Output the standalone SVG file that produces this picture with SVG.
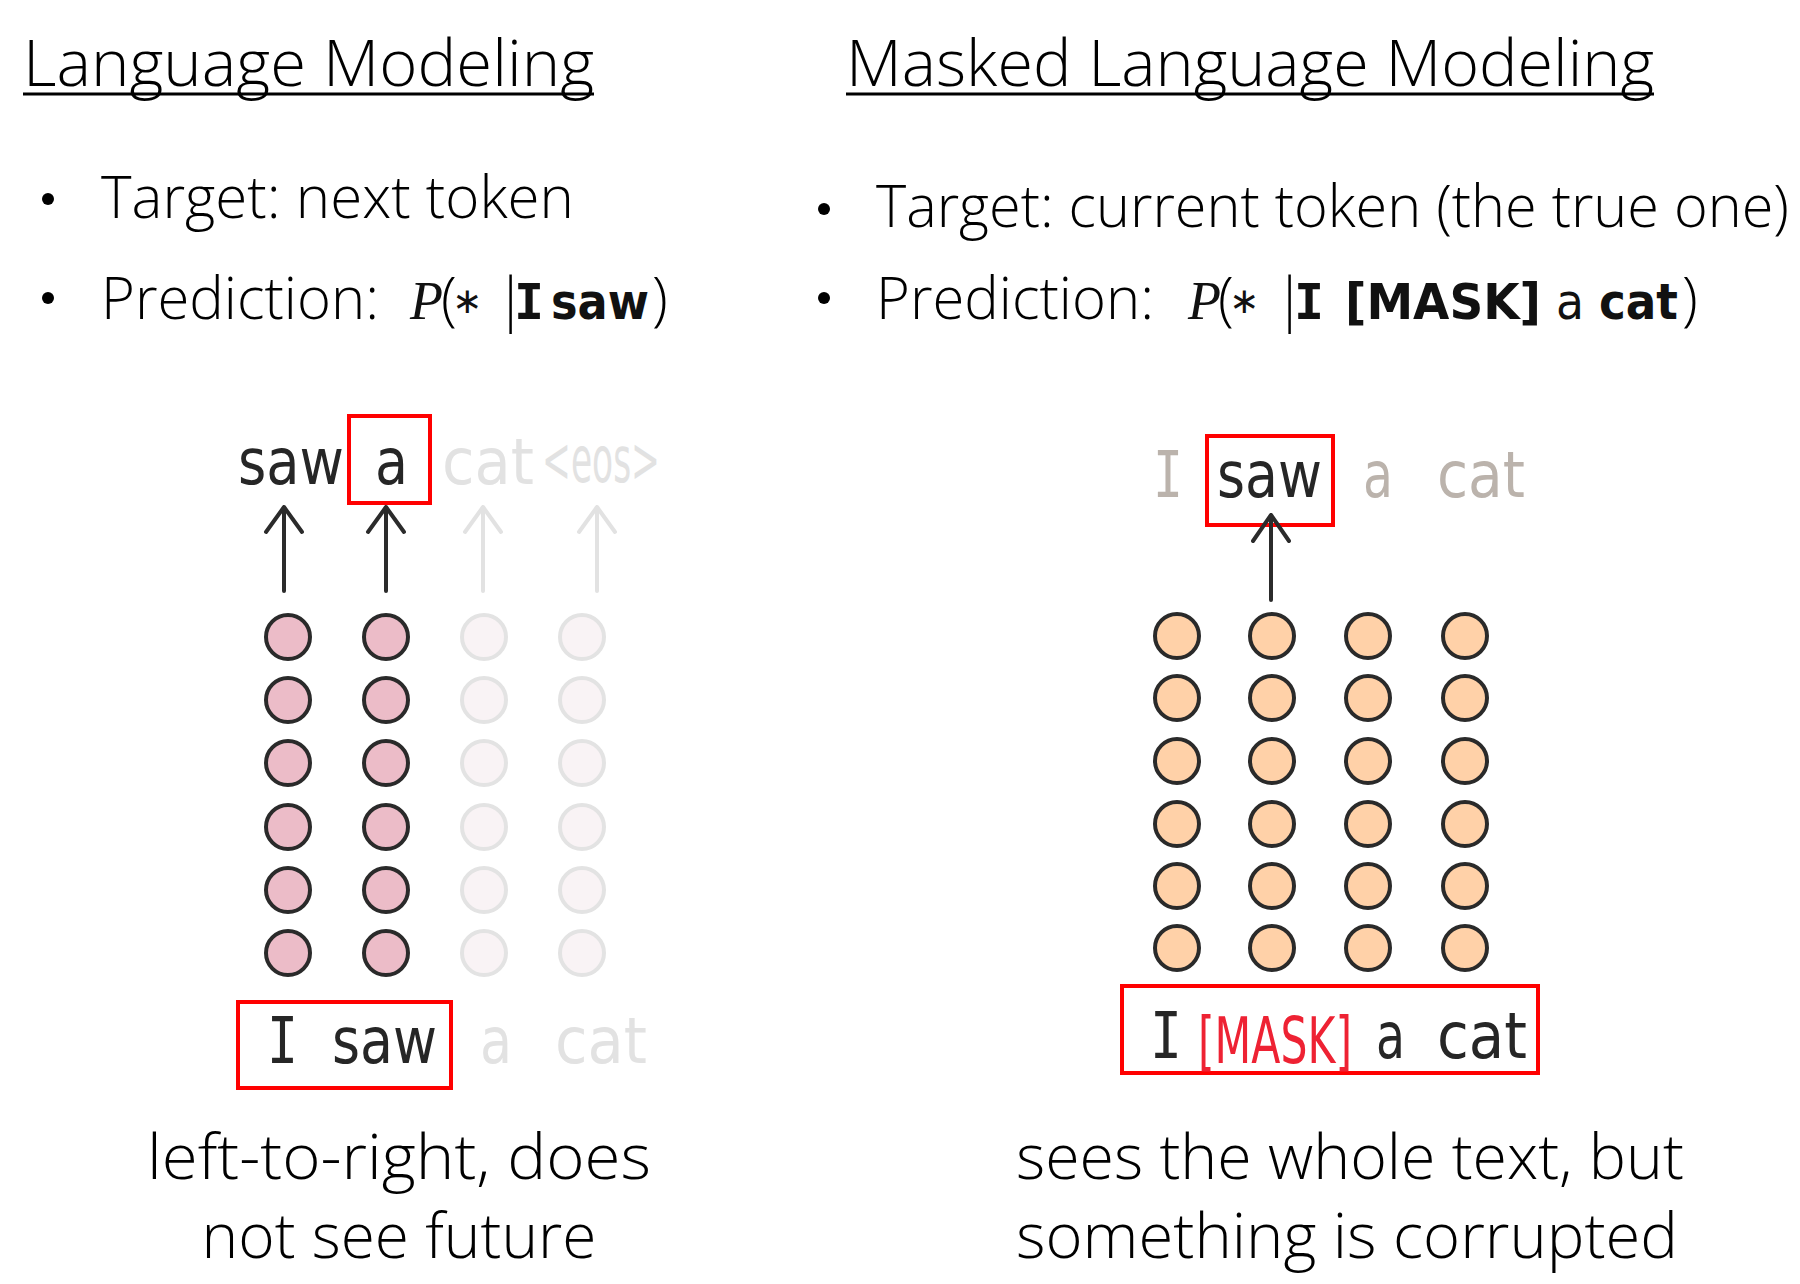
<svg xmlns="http://www.w3.org/2000/svg" width="1800" height="1284" viewBox="0 0 1800 1284">
<style>
.sans{font-family:"Open Sans","Liberation Sans",sans-serif;font-weight:300;fill:#000}
.title{font-size:64px}
.body{font-size:58px}
.cap{font-size:62px}
.tok{font-family:"DejaVu Sans","Liberation Sans",sans-serif;font-size:64px}
.mono{font-family:"DejaVu Sans Mono","Liberation Mono",monospace}
.math{font-family:"DejaVu Sans","Liberation Sans",sans-serif;font-weight:bold;font-size:50px;fill:#111}
.serif{font-family:"Liberation Serif",serif;font-style:italic;font-weight:normal}
.dark{fill:#262626}
.faint{fill:#E2E2E2}
.warm{fill:#BBB3AC}
.red{fill:#EE2233}
.box{fill:none;stroke:#FF0000;stroke-width:4}
.arr{fill:none;stroke:#2b2b2b;stroke-width:4;stroke-linecap:round;stroke-linejoin:round}
.arr.f{stroke:#E2E2E2}
.cp{fill:#ECBCC8;stroke:#2a2a2a;stroke-width:4}
.cf{fill:#F9F3F5;stroke:#E3E3E3;stroke-width:4}
.co{fill:#FFD1A8;stroke:#2a2a2a;stroke-width:4}
.ul{stroke:#000;stroke-width:3}
</style>
<rect width="1800" height="1284" fill="#fff"/>

<g id="title-lm">
<text class="sans title" x="23" y="86" textLength="571" lengthAdjust="spacingAndGlyphs">Language Modeling</text>
<line class="ul" x1="23" y1="94" x2="594" y2="94"/>
</g>
<g id="title-mlm">
<text class="sans title" x="846" y="86" textLength="808" lengthAdjust="spacingAndGlyphs">Masked Language Modeling</text>
<line class="ul" x1="846" y1="94" x2="1654" y2="94"/>
</g>

<g id="bullets-lm">
<circle cx="48" cy="199" r="6" fill="#000"/>
<text class="sans body" x="101" y="218" textLength="473" lengthAdjust="spacingAndGlyphs">Target: next token</text>
<circle cx="48" cy="298" r="6" fill="#000"/>
<text class="sans body" x="101" y="319" textLength="278" lengthAdjust="spacingAndGlyphs">Prediction:</text>
<text class="math" y="319"><tspan class="serif" x="410" font-size="54">P</tspan><tspan class="sans" x="441" font-size="58" font-weight="300">(</tspan><tspan x="452" font-size="36" font-weight="normal" dy="-6">∗</tspan><tspan class="sans" x="495" font-size="58" font-weight="300" dy="6">|</tspan><tspan class="mono" x="514">I</tspan><tspan x="551" textLength="98" lengthAdjust="spacingAndGlyphs">saw</tspan><tspan class="sans" x="652" font-size="58" font-weight="300">)</tspan></text>
</g>

<g id="bullets-mlm">
<circle cx="824" cy="209" r="6" fill="#000"/>
<text class="sans body" x="876" y="227" textLength="913" lengthAdjust="spacingAndGlyphs">Target: current token (the true one)</text>
<circle cx="824" cy="298" r="6" fill="#000"/>
<text class="sans body" x="876" y="319" textLength="278" lengthAdjust="spacingAndGlyphs">Prediction:</text>
<text class="math" y="319"><tspan class="serif" x="1188" font-size="54">P</tspan><tspan class="sans" x="1218" font-size="58" font-weight="300">(</tspan><tspan x="1229" font-size="36" font-weight="normal" dy="-6">∗</tspan><tspan class="sans" x="1274" font-size="58" font-weight="300" dy="6">|</tspan><tspan class="mono" x="1294">I</tspan><tspan x="1345" textLength="196" lengthAdjust="spacingAndGlyphs">[MASK]</tspan><tspan x="1556" textLength="28" lengthAdjust="spacingAndGlyphs" font-weight="normal">a</tspan><tspan x="1599" textLength="79" lengthAdjust="spacingAndGlyphs">cat</tspan><tspan class="sans" x="1682" font-size="58" font-weight="300">)</tspan></text>
</g>

<g id="lm-outputs">
<text class="tok dark" x="238" y="484" textLength="106" lengthAdjust="spacingAndGlyphs">saw</text>
<text class="tok dark" x="375" y="484" textLength="33" lengthAdjust="spacingAndGlyphs">a</text>
<rect class="box" x="349" y="416" width="81" height="87"/>
<text class="tok faint" x="442" y="484" textLength="92" lengthAdjust="spacingAndGlyphs">cat</text>
<text class="tok faint" x="542" y="482" font-size="44" textLength="118" lengthAdjust="spacingAndGlyphs">&lt;eos&gt;</text>
</g>

<g id="lm-inputs">
<rect class="box" x="238" y="1002" width="213" height="86"/>
<text class="tok dark mono" x="267" y="1063" textLength="31" lengthAdjust="spacingAndGlyphs">I</text>
<text class="tok dark" x="332" y="1063" textLength="105" lengthAdjust="spacingAndGlyphs">saw</text>
<text class="tok faint" x="480" y="1063" textLength="32" lengthAdjust="spacingAndGlyphs">a</text>
<text class="tok faint" x="555" y="1063" textLength="92" lengthAdjust="spacingAndGlyphs">cat</text>
</g>

<g id="lm-states">
<g class="cp">
<circle cx="288" cy="637" r="22"/><circle cx="288" cy="700" r="22"/><circle cx="288" cy="763" r="22"/><circle cx="288" cy="827" r="22"/><circle cx="288" cy="890" r="22"/><circle cx="288" cy="953" r="22"/>
<circle cx="386" cy="637" r="22"/><circle cx="386" cy="700" r="22"/><circle cx="386" cy="763" r="22"/><circle cx="386" cy="827" r="22"/><circle cx="386" cy="890" r="22"/><circle cx="386" cy="953" r="22"/>
</g>
<g class="cf">
<circle cx="484" cy="637" r="22"/><circle cx="484" cy="700" r="22"/><circle cx="484" cy="763" r="22"/><circle cx="484" cy="827" r="22"/><circle cx="484" cy="890" r="22"/><circle cx="484" cy="953" r="22"/>
<circle cx="582" cy="637" r="22"/><circle cx="582" cy="700" r="22"/><circle cx="582" cy="763" r="22"/><circle cx="582" cy="827" r="22"/><circle cx="582" cy="890" r="22"/><circle cx="582" cy="953" r="22"/>
</g>
</g>

<g id="mlm-outputs">
<text class="tok warm mono" x="1153" y="497" textLength="30" lengthAdjust="spacingAndGlyphs">I</text>
<text class="tok dark" x="1217" y="497" textLength="105" lengthAdjust="spacingAndGlyphs">saw</text>
<rect class="box" x="1207" y="436" width="126" height="89"/>
<text class="tok warm" x="1363" y="497" textLength="30" lengthAdjust="spacingAndGlyphs">a</text>
<text class="tok warm" x="1437" y="497" textLength="88" lengthAdjust="spacingAndGlyphs">cat</text>
</g>

<g id="mlm-inputs">
<rect class="box" x="1122" y="986" width="416" height="87"/>
<text class="tok dark mono" x="1150" y="1058" textLength="32" lengthAdjust="spacingAndGlyphs">I</text>
<text class="tok red" x="1198" y="1063" font-size="44" textLength="154" lengthAdjust="spacingAndGlyphs">[MASK]</text>
<text class="tok dark" x="1376" y="1058" textLength="29" lengthAdjust="spacingAndGlyphs">a</text>
<text class="tok dark" x="1437" y="1058" textLength="90" lengthAdjust="spacingAndGlyphs">cat</text>
</g>

<g id="mlm-states" class="co">
<circle cx="1177" cy="636" r="22"/><circle cx="1177" cy="698" r="22"/><circle cx="1177" cy="761" r="22"/><circle cx="1177" cy="824" r="22"/><circle cx="1177" cy="886" r="22"/><circle cx="1177" cy="948" r="22"/>
<circle cx="1272" cy="636" r="22"/><circle cx="1272" cy="698" r="22"/><circle cx="1272" cy="761" r="22"/><circle cx="1272" cy="824" r="22"/><circle cx="1272" cy="886" r="22"/><circle cx="1272" cy="948" r="22"/>
<circle cx="1368" cy="636" r="22"/><circle cx="1368" cy="698" r="22"/><circle cx="1368" cy="761" r="22"/><circle cx="1368" cy="824" r="22"/><circle cx="1368" cy="886" r="22"/><circle cx="1368" cy="948" r="22"/>
<circle cx="1465" cy="636" r="22"/><circle cx="1465" cy="698" r="22"/><circle cx="1465" cy="761" r="22"/><circle cx="1465" cy="824" r="22"/><circle cx="1465" cy="886" r="22"/><circle cx="1465" cy="948" r="22"/>
</g>

<g id="connectors">
<path class="arr" d="M284 591V507M266 532L284 507L302 532"/>
<path class="arr" d="M386 591V507M368 532L386 507L404 532"/>
<path class="arr f" d="M483 591V507M465 532L483 507L501 532"/>
<path class="arr f" d="M597 591V507M579 532L597 507L615 532"/>
<path class="arr" d="M1271 600V515M1253 541L1271 515L1289 541"/>
</g>

<g id="caption-lm">
<text class="sans cap" x="399" y="1179" text-anchor="middle" textLength="504" lengthAdjust="spacingAndGlyphs">left-to-right, does</text>
<text class="sans cap" x="399" y="1258" text-anchor="middle" textLength="395" lengthAdjust="spacingAndGlyphs">not see future</text>
</g>
<g id="caption-mlm">
<text class="sans cap" x="1016" y="1179" textLength="668" lengthAdjust="spacingAndGlyphs">sees the whole text, but</text>
<text class="sans cap" x="1016" y="1258" textLength="662" lengthAdjust="spacingAndGlyphs">something is corrupted</text>
</g>
</svg>
